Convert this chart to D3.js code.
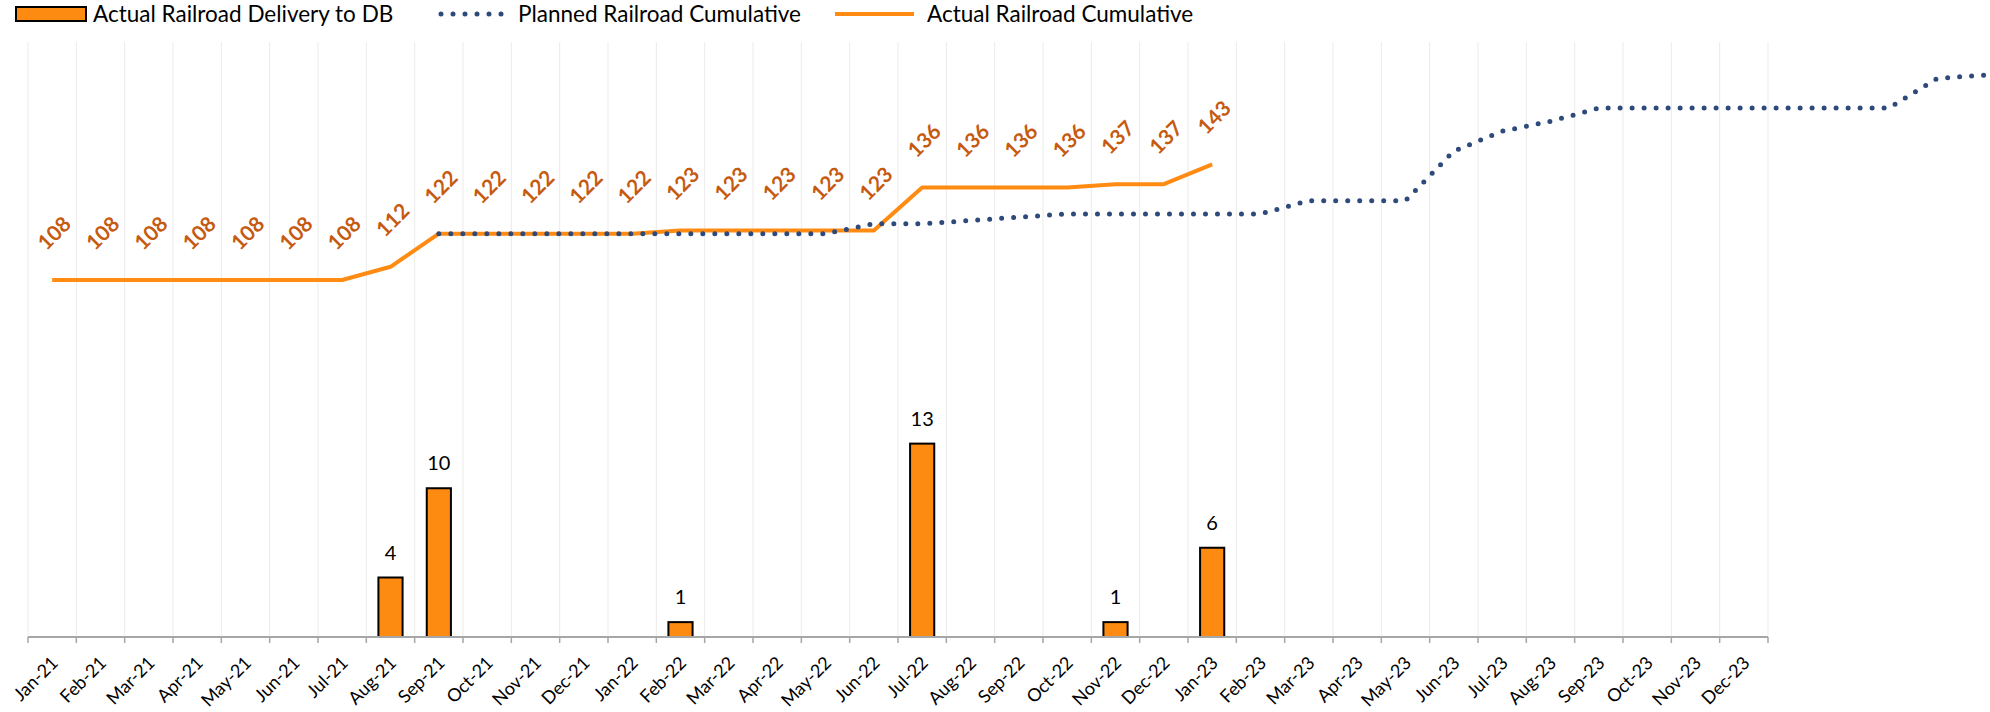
<!DOCTYPE html>
<html>
<head>
<meta charset="utf-8">
<script src="https://cdn.jsdelivr.net/npm/d3@7"></script>
<style>
  body { margin: 0; background: #fff; }
  svg { display: block; font-family: Lato, 'Open Sans', sans-serif; }
</style>
</head>
<body>
<div id="container"></div>
<script>
// months on the category axis
const months = ['Jan-21', 'Feb-21', 'Mar-21', 'Apr-21', 'May-21', 'Jun-21', 'Jul-21', 'Aug-21', 'Sep-21', 'Oct-21', 'Nov-21', 'Dec-21',
  'Jan-22', 'Feb-22', 'Mar-22', 'Apr-22', 'May-22', 'Jun-22', 'Jul-22', 'Aug-22', 'Sep-22', 'Oct-22', 'Nov-22', 'Dec-22',
  'Jan-23', 'Feb-23', 'Mar-23', 'Apr-23', 'May-23', 'Jun-23', 'Jul-23', 'Aug-23', 'Sep-23', 'Oct-23', 'Nov-23', 'Dec-23'];
// planned series runs on past the axis
const extraMonths = ['Jan-24', 'Feb-24', 'Mar-24', 'Apr-24', 'May-24'];

// Jan-21 .. Jan-23
const deliveries = [null, null, null, null, null, null, null, 4, 10, null, null, null,
  null, 1, null, null, null, null, 13, null, null, null, 1, null, 6];
const actualCum = [108, 108, 108, 108, 108, 108, 108, 112, 122, 122, 122, 122,
  122, 123, 123, 123, 123, 123, 136, 136, 136, 136, 137, 137, 143];

// Sep-21 .. May-24
const plannedCum = [122, 122, 122, 122, 122, 122, 122, 122, 122, 125, 125, 126, 127, 128, 128, 128, 128, 128,
  132, 132, 132, 147, 153, 156, 160, 160, 160, 160, 160, 160, 160, 169, 170];

const allMonths = months.concat(extraMonths);
const plannedMonths = allMonths.slice(allMonths.indexOf('Sep-21'));

const width = 1990;
const height = 712;
const margin = { left: 28, right: 1768, top: 42, bottom: 637 };
const step = (margin.right - margin.left) / months.length;

const svg = d3.select('#container').append('svg')
  .attr('width', width)
  .attr('height', height);

const x = d3.scaleBand()
  .domain(allMonths)
  .range([margin.left, margin.left + step * allMonths.length]);
const cx = (m) => x(m) + x.bandwidth() / 2;

const y = d3.scaleLinear().domain([0, 180]).range([margin.bottom, margin.top]);
const y2 = d3.scaleLinear().domain([0, 40]).range([margin.bottom, margin.top]);

// vertical gridlines at category boundaries
const bounds = months.map((m) => x(m)).concat([x(months[months.length - 1]) + step]);
svg.append('g').selectAll('line')
  .data(bounds).enter()
  .append('line')
  .attr('x1', (d) => d).attr('x2', (d) => d)
  .attr('y1', margin.top).attr('y2', margin.bottom)
  .attr('stroke', '#ebebeb')
  .attr('stroke-width', 1);

// bars
const barData = deliveries.map((v, i) => ({ m: months[i], v })).filter((d) => d.v !== null);
const barW = x.bandwidth() * 0.5;
svg.append('g').selectAll('rect')
  .data(barData).enter()
  .append('rect')
  .attr('x', (d) => cx(d.m) - barW / 2)
  .attr('y', (d) => y2(d.v))
  .attr('width', barW)
  .attr('height', (d) => y2(0) - y2(d.v))
  .attr('fill', '#fd8b12')
  .attr('stroke', '#000')
  .attr('stroke-width', 2);

svg.append('g').selectAll('text')
  .data(barData).enter()
  .append('text')
  .attr('x', (d) => cx(d.m))
  .attr('y', (d) => y2(d.v) - 18)
  .attr('text-anchor', 'middle')
  .style('font-size', '20px')
  .attr('fill', '#000')
  .text((d) => d.v);

// axis
svg.append('line')
  .attr('x1', margin.left).attr('x2', margin.right)
  .attr('y1', margin.bottom).attr('y2', margin.bottom)
  .attr('stroke', '#a6a6a6')
  .attr('stroke-width', 2);

svg.append('g').selectAll('line')
  .data(bounds).enter()
  .append('line')
  .attr('x1', (d) => d).attr('x2', (d) => d)
  .attr('y1', margin.bottom).attr('y2', margin.bottom + 6)
  .attr('stroke', '#a6a6a6')
  .attr('stroke-width', 1.5);

const xAxis = svg.append('g')
  .attr('transform', `translate(0, ${margin.bottom})`)
  .call(d3.axisBottom(x).tickValues(months).tickSize(0));
xAxis.select('.domain').remove();
xAxis.selectAll('text')
  .attr('text-anchor', 'end')
  .attr('dy', null)
  .attr('y', 0)
  .attr('transform', 'translate(7, 27) rotate(-45)')
  .style('font-size', '18px')
  .style('font-family', 'Lato, sans-serif')
  .attr('fill', '#000');

// actual cumulative
const actualData = actualCum.map((v, i) => ({ m: months[i], v }));
svg.append('path')
  .datum(actualData)
  .attr('fill', 'none')
  .attr('stroke', '#ff8b12')
  .attr('stroke-width', 4)
  .attr('stroke-linejoin', 'round')
  .attr('d', d3.line().x((d) => cx(d.m)).y((d) => y(d.v)));

// planned cumulative
const plannedData = plannedCum.map((v, i) => ({ m: plannedMonths[i], v }));
svg.append('path')
  .datum(plannedData)
  .attr('fill', 'none')
  .attr('stroke', '#2e4a7b')
  .attr('stroke-width', 5)
  .attr('stroke-linecap', 'round')
  .attr('stroke-dasharray', '0 12')
  .attr('d', d3.line().x((d) => cx(d.m)).y((d) => y(d.v)));

svg.append('g').selectAll('text')
  .data(actualData).enter()
  .append('text')
  .attr('transform', (d) => `translate(${cx(d.m) + 2}, ${y(d.v) - 47}) rotate(-45)`)
  .attr('text-anchor', 'middle')
  .attr('dy', '0.36em')
  .style('font-size', '21px')
  .style('font-weight', 'bold')
  .attr('fill', '#c55a11')
  .text((d) => d.v);

// legend
const legend = svg.append('g').style('font-size', '22.5px');
legend.append('rect')
  .attr('x', 16).attr('y', 7).attr('width', 70).attr('height', 14)
  .attr('fill', '#fd8b12').attr('stroke', '#000').attr('stroke-width', 2);
legend.append('text').attr('x', 93).attr('y', 14).attr('dy', '0.36em')
  .text('Actual Railroad Delivery to DB');
legend.append('line')
  .attr('x1', 441).attr('x2', 502).attr('y1', 14).attr('y2', 14)
  .attr('stroke', '#2e4a7b').attr('stroke-width', 5)
  .attr('stroke-linecap', 'round').attr('stroke-dasharray', '0 12');
legend.append('text').attr('x', 518).attr('y', 14).attr('dy', '0.36em')
  .text('Planned Railroad Cumulative');
legend.append('line')
  .attr('x1', 835).attr('x2', 914).attr('y1', 14).attr('y2', 14)
  .attr('stroke', '#ff8b12').attr('stroke-width', 4);
legend.append('text').attr('x', 927).attr('y', 14).attr('dy', '0.36em')
  .text('Actual Railroad Cumulative');
</script>
</body>
</html>
